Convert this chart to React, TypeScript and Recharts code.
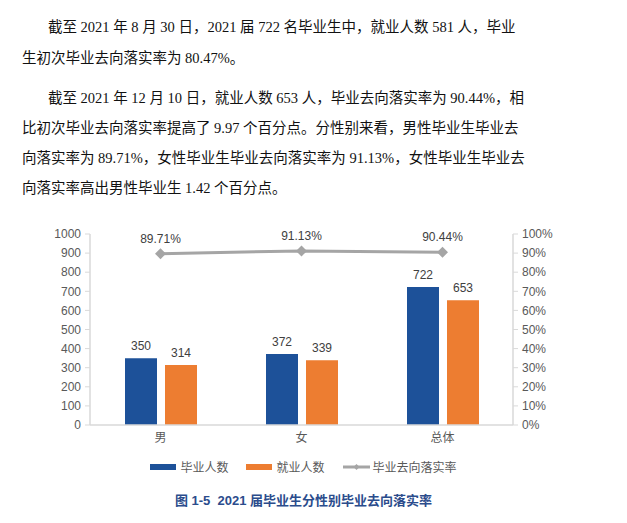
import {
  ComposedChart,
  Bar,
  Line,
  XAxis,
  YAxis,
  LabelList,
} from "recharts";

const categories = ["男", "女", "总体"];
const graduates = [350, 372, 722];
const employed = [314, 339, 653];
const placementRate = [89.71, 91.13, 90.44];
const countTicks = [0, 100, 200, 300, 400, 500, 600, 700, 800, 900, 1000];
const rateTicks = [0, 10, 20, 30, 40, 50, 60, 70, 80, 90, 100];

const seriesNames = ["毕业人数", "就业人数", "毕业去向落实率"];
const seriesColors = ["#1D5199", "#ED7D31", "#A5A5A5"];

const paragraphLines = [
  { text: "截至 2021 年 8 月 30 日，2021 届 722 名毕业生中，就业人数 581 人，毕业", top: 12, indent: true, full: true },
  { text: "生初次毕业去向落实率为 80.47%。", top: 43, indent: false, full: false },
  { text: "截至 2021 年 12 月 10 日，就业人数 653 人，毕业去向落实率为 90.44%，相", top: 83, indent: true, full: true },
  { text: "比初次毕业去向落实率提高了 9.97 个百分点。分性别来看，男性毕业生毕业去", top: 113, indent: false, full: true },
  { text: "向落实率为 89.71%，女性毕业生毕业去向落实率为 91.13%，女性毕业生毕业去", top: 143, indent: false, full: true },
  { text: "向落实率高出男性毕业生 1.42 个百分点。", top: 173, indent: false, full: false },
];

const title = "图 1-5  2021 届毕业生分性别毕业去向落实率";

const data = categories.map((name, i) => ({
  name,
  graduates: graduates[i],
  employed: employed[i],
  rate: placementRate[i],
}));

const chartFont = "'Liberation Sans', 'Noto Sans CJK SC', sans-serif";

// diamond marker for the rate line
function Diamond(props: any) {
  const { cx, cy, index } = props;
  if (cx == null || cy == null) return null;
  const r = 5.5;
  return (
    <path
      key={`d-${index}`}
      d={`M${cx},${cy - r}L${cx + r},${cy}L${cx},${cy + r}L${cx - r},${cy}Z`}
      fill="#A5A5A5"
    />
  );
}

function LegendRow() {
  return (
    <div
      style={{
        position: "absolute",
        left: 0,
        top: 458,
        width: 607,
        display: "flex",
        justifyContent: "center",
        gap: 18,
        fontFamily: chartFont,
        fontSize: 12,
        color: "#595959",
      }}
    >
      {seriesNames.map((name, i) => (
        <div key={name} style={{ display: "flex", alignItems: "center", gap: 3 }}>
          <svg width={27} height={12}>
            {i < 2 ? (
              <rect x={0} y={3} width={26} height={6} fill={seriesColors[i]} />
            ) : (
              <g>
                <line x1={0} y1={6} x2={27} y2={6} stroke={seriesColors[i]} strokeWidth={3} />
                <path d="M13.5,3L16.5,6L13.5,9L10.5,6Z" fill={seriesColors[i]} />
              </g>
            )}
          </svg>
          <span>{name}</span>
        </div>
      ))}
    </div>
  );
}

export default function App() {
  return (
    <div
      style={{
        position: "absolute",
        left: 0,
        top: 0,
        width: 627,
        height: 523,
        background: "#fff",
        overflow: "hidden",
      }}
    >
      {paragraphLines.map((line, i) => (
        <div
          key={i}
          style={{
            position: "absolute",
            left: line.indent ? 48 : 22,
            top: line.top,
            width: line.indent ? 434 : 460,
            height: 30,
            lineHeight: "30px",
            fontFamily: "'Liberation Serif', 'Noto Sans CJK SC', serif",
            fontSize: 14.5,
            color: "#111",
            whiteSpace: "nowrap",
            textAlign: line.full ? "justify" : "left",
            textAlignLast: line.full ? "justify" : "left",
          }}
        >
          {line.text}
        </div>
      ))}

      <div style={{ position: "absolute", left: 0, top: 215 }}>
        <ComposedChart
          width={627}
          height={240}
          data={data}
          margin={{ top: 19, right: 54, bottom: 0, left: 30 }}
          barSize={32}
          barGap={8}
          style={{ fontFamily: chartFont }}
        >
          <XAxis
            dataKey="name"
            axisLine={{ stroke: "#D9D9D9", strokeWidth: 1.5 }}
            tickLine={false}
            tick={{ fill: "#595959", fontSize: 12 }}
            height={30}
          />
          <YAxis
            yAxisId="left"
            domain={[0, 1000]}
            ticks={countTicks}
            interval={0}
            width={60}
            axisLine={{ stroke: "#D9D9D9", strokeWidth: 1.5 }}
            tickLine={{ stroke: "#D9D9D9" }}
            tickSize={5}
            tickMargin={4}
            tick={{ fill: "#595959", fontSize: 12 }}
          />
          <YAxis
            yAxisId="right"
            orientation="right"
            domain={[0, 100]}
            ticks={rateTicks}
            interval={0}
            width={60}
            axisLine={{ stroke: "#D9D9D9", strokeWidth: 1.5 }}
            tickLine={{ stroke: "#D9D9D9" }}
            tickSize={5}
            tickMargin={4}
            tickFormatter={(v: number) => `${v}%`}
            tick={{ fill: "#595959", fontSize: 12 }}
          />
          <Bar
            yAxisId="left"
            dataKey="graduates"
            name={seriesNames[0]}
            fill={seriesColors[0]}
            isAnimationActive={false}
          >
            <LabelList dataKey="graduates" position="top" offset={8} fill="#404040" fontSize={12} />
          </Bar>
          <Bar
            yAxisId="left"
            dataKey="employed"
            name={seriesNames[1]}
            fill={seriesColors[1]}
            isAnimationActive={false}
          >
            <LabelList dataKey="employed" position="top" offset={8} fill="#404040" fontSize={12} />
          </Bar>
          <Line
            yAxisId="right"
            dataKey="rate"
            name={seriesNames[2]}
            stroke={seriesColors[2]}
            strokeWidth={3}
            dot={<Diamond />}
            activeDot={false}
            isAnimationActive={false}
          >
            <LabelList
              dataKey="rate"
              position="top"
              offset={11}
              fill="#404040"
              fontSize={12}
              formatter={(v: any) => `${Number(v).toFixed(2)}%`}
            />
          </Line>
        </ComposedChart>
      </div>

      <LegendRow />

      <div
        style={{
          position: "absolute",
          left: 0,
          top: 490,
          width: 607,
          textAlign: "center",
          fontFamily: chartFont,
          fontWeight: "bold",
          fontSize: 13,
          color: "#2B4C8C",
          whiteSpace: "pre",
        }}
      >
        {title}
      </div>
    </div>
  );
}
